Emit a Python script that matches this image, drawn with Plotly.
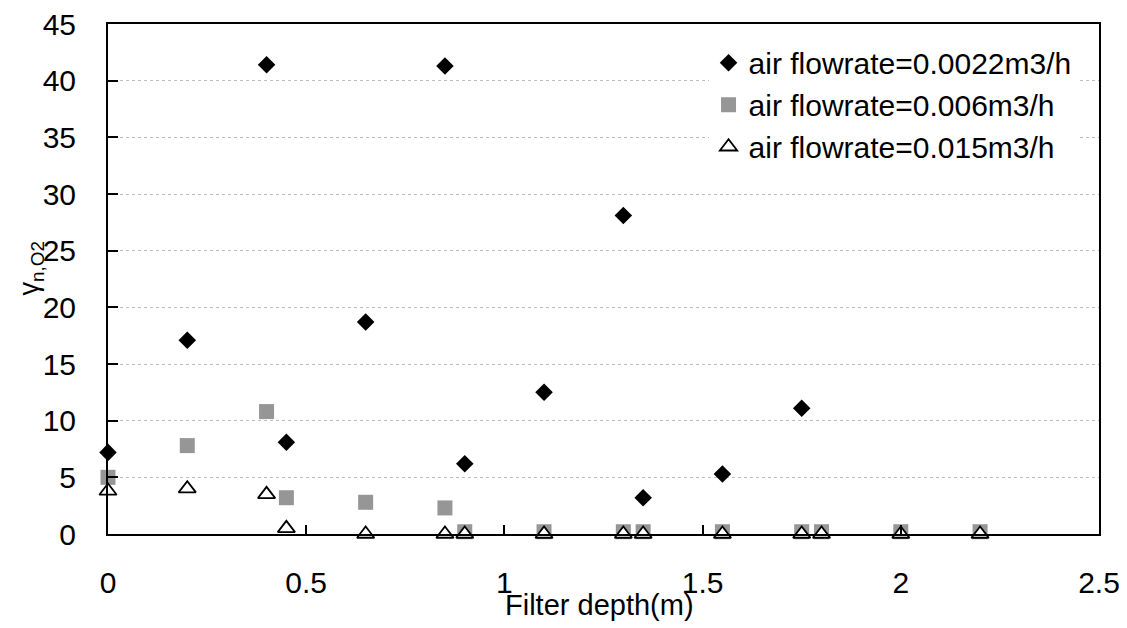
import plotly.graph_objects as go

# Data
depth_a = [0, 0.2, 0.4, 0.45, 0.65, 0.85, 0.9, 1.1, 1.3, 1.35, 1.55, 1.75]
gamma_a = [7.2, 17.1, 41.4, 8.1, 18.7, 41.3, 6.2, 12.5, 28.1, 3.2, 5.3, 11.1]

depth_b = [0, 0.2, 0.4, 0.45, 0.65, 0.85, 0.9, 1.1, 1.3, 1.35, 1.55, 1.75, 1.8, 2.0, 2.2]
gamma_b = [5.0, 7.8, 10.8, 3.2, 2.8, 2.3, 0.2, 0.2, 0.2, 0.2, 0.2, 0.2, 0.2, 0.2, 0.2]

depth_c = [0, 0.2, 0.4, 0.45, 0.65, 0.85, 0.9, 1.1, 1.3, 1.35, 1.55, 1.75, 1.8, 2.0, 2.2]
gamma_c = [3.8, 4.0, 3.5, 0.5, 0, 0, 0, 0, 0, 0, 0, 0, 0, 0, 0]

names = ["air flowrate=0.0022m3/h", "air flowrate=0.006m3/h", "air flowrate=0.015m3/h"]

x_ticks = [0, 0.5, 1, 1.5, 2, 2.5]
x_ticktext = ["0", "0.5", "1", "1.5", "2", "2.5"]
y_ticks = [0, 5, 10, 15, 20, 25, 30, 35, 40, 45]

x_title = "Filter depth(m)"
y_title = "γ<sub>n,O2</sub>"

FONT = "Liberation Sans, Arial, sans-serif"

fig = go.Figure()
fig.add_trace(go.Scatter(
    x=depth_a, y=gamma_a, mode="markers", name=names[0], cliponaxis=False,
    marker=dict(symbol="diamond", size=13.5, color="black", line=dict(width=0)),
))
fig.add_trace(go.Scatter(
    x=depth_b, y=gamma_b, mode="markers", name=names[1], cliponaxis=False,
    marker=dict(symbol="square", size=15, color="#969696", line=dict(width=0)),
))
fig.add_trace(go.Scatter(
    x=depth_c, y=gamma_c, mode="markers", name=names[2], cliponaxis=False,
    marker=dict(symbol="triangle-up", size=15, color="white", line=dict(width=1.8, color="black")),
))

# the page body keeps an 8px default margin, so the figure is sized to fit the window
fig.update_layout(
    width=1119, height=620,
    margin=dict(l=100, r=28, t=16, b=94, autoexpand=False),
    paper_bgcolor="white", plot_bgcolor="white",
    font=dict(family=FONT, size=30, color="black"),
    showlegend=True,
    legend=dict(
        x=0.606, y=0.975, xanchor="left", yanchor="top",
        bgcolor="white", borderwidth=0,
        font=dict(family=FONT, size=30, color="black"),
        tracegroupgap=0, itemsizing="trace",
    ),
    xaxis=dict(
        range=[0, 2.5], tickvals=x_ticks, ticktext=x_ticktext,
        showline=True, linecolor="black", linewidth=2, mirror=True,
        ticks="inside", ticklen=9, tickwidth=1.5, tickcolor="black",
        showgrid=False, zeroline=False, automargin=False,
        ticklabelstandoff=21, ticklabeloverflow="allow",
        tickfont=dict(family=FONT, size=30),
    ),
    yaxis=dict(
        range=[0, 45], tickvals=y_ticks,
        showline=True, linecolor="black", linewidth=2, mirror=True,
        ticks="inside", ticklen=10, tickwidth=2, tickcolor="black",
        showgrid=True, gridcolor="#bdbdbd", gridwidth=1, griddash="dot",
        zeroline=False, automargin=False,
        ticklabelstandoff=24, ticklabeloverflow="allow",
        tickfont=dict(family=FONT, size=30),
    ),
    annotations=[
        dict(text=x_title, xref="paper", yref="paper", x=0.496, y=-0.139,
             xanchor="center", yanchor="middle", showarrow=False,
             font=dict(family=FONT, size=29, color="black")),
        dict(text=y_title, xref="paper", yref="paper", x=-0.078, y=0.52,
             xanchor="center", yanchor="middle", showarrow=False, textangle=-90,
             font=dict(family=FONT, size=27, color="black")),
    ],
)

fig.write_html("out.html")
